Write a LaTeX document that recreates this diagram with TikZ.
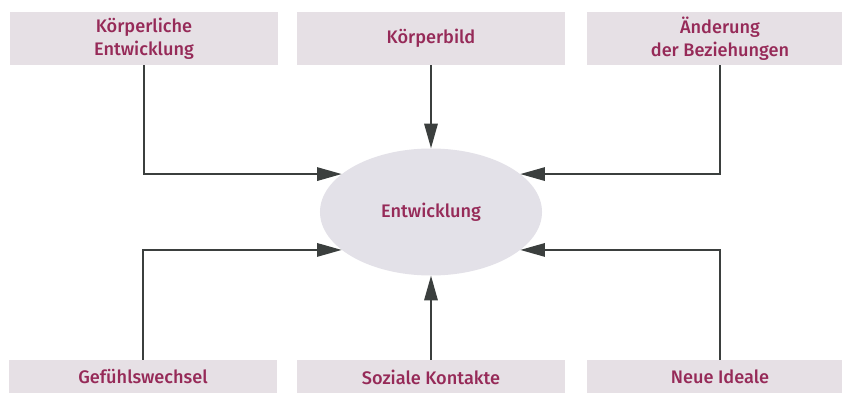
\documentclass[tikz,border=0pt]{standalone}
\usepackage{fontspec}
\setmainfont{Fira Sans}[UprightFont=* Medium]
\usetikzlibrary{arrows.meta,shapes.geometric}

\definecolor{boxfill}{HTML}{E6E0E5}
\definecolor{ovalfill}{HTML}{E3E1E8}
\definecolor{labelred}{HTML}{962A58}
\definecolor{linegray}{HTML}{3B3F3E}

\tikzset{
    factorbox/.style={fill=boxfill, text=labelred, align=center,
        minimum width=8.01cm, minimum height=1.59cm, inner sep=0pt,
        font=\fontsize{15.5}{19.5}\selectfont},
    lowbox/.style={factorbox, minimum height=1.02cm},
    flow/.style={draw=linegray, line width=1.4pt,
        -{Triangle[length=21pt, width=11.5pt]}}
}

\begin{document}
\begin{tikzpicture}[x=0.03cm, y=-0.03cm]
    \clip (0,0) rectangle (842,392);
    \fill[white] (0,0) rectangle (842,392);

    % top row
    \node[factorbox] (koerper) at (144,38.5) {Körperliche\\Entwicklung};
    \node[factorbox] (bild) at (431,38.5) {Körperbild};
    \node[factorbox] (bezieh) at (720,38.5) {Änderung\\der Beziehungen};

    % bottom row
    \node[lowbox] (gefuehl) at (143,377) {Gefühlswechsel};
    \node[lowbox] (sozial) at (431,377) {Soziale Kontakte};
    \node[lowbox] (ideale) at (720,377) {Neue Ideale};

    % centre
    \node[ellipse, fill=ovalfill, text=labelred, minimum width=6.66cm,
        minimum height=3.81cm, inner sep=0pt,
        font=\fontsize{15.5}{19.5}\selectfont] (entw) at (431,212) {Entwicklung};

    \draw[flow] (koerper.south) |- (entw.157);
    \draw[flow] (bild.south) -- (entw.north);
    \draw[flow] (bezieh.south) |- (entw.23);
    \draw[flow] (gefuehl.north) |- (entw.203);
    \draw[flow] (sozial.north) -- (entw.south);
    \draw[flow] (ideale.north) |- (entw.-23);
\end{tikzpicture}
\end{document}
